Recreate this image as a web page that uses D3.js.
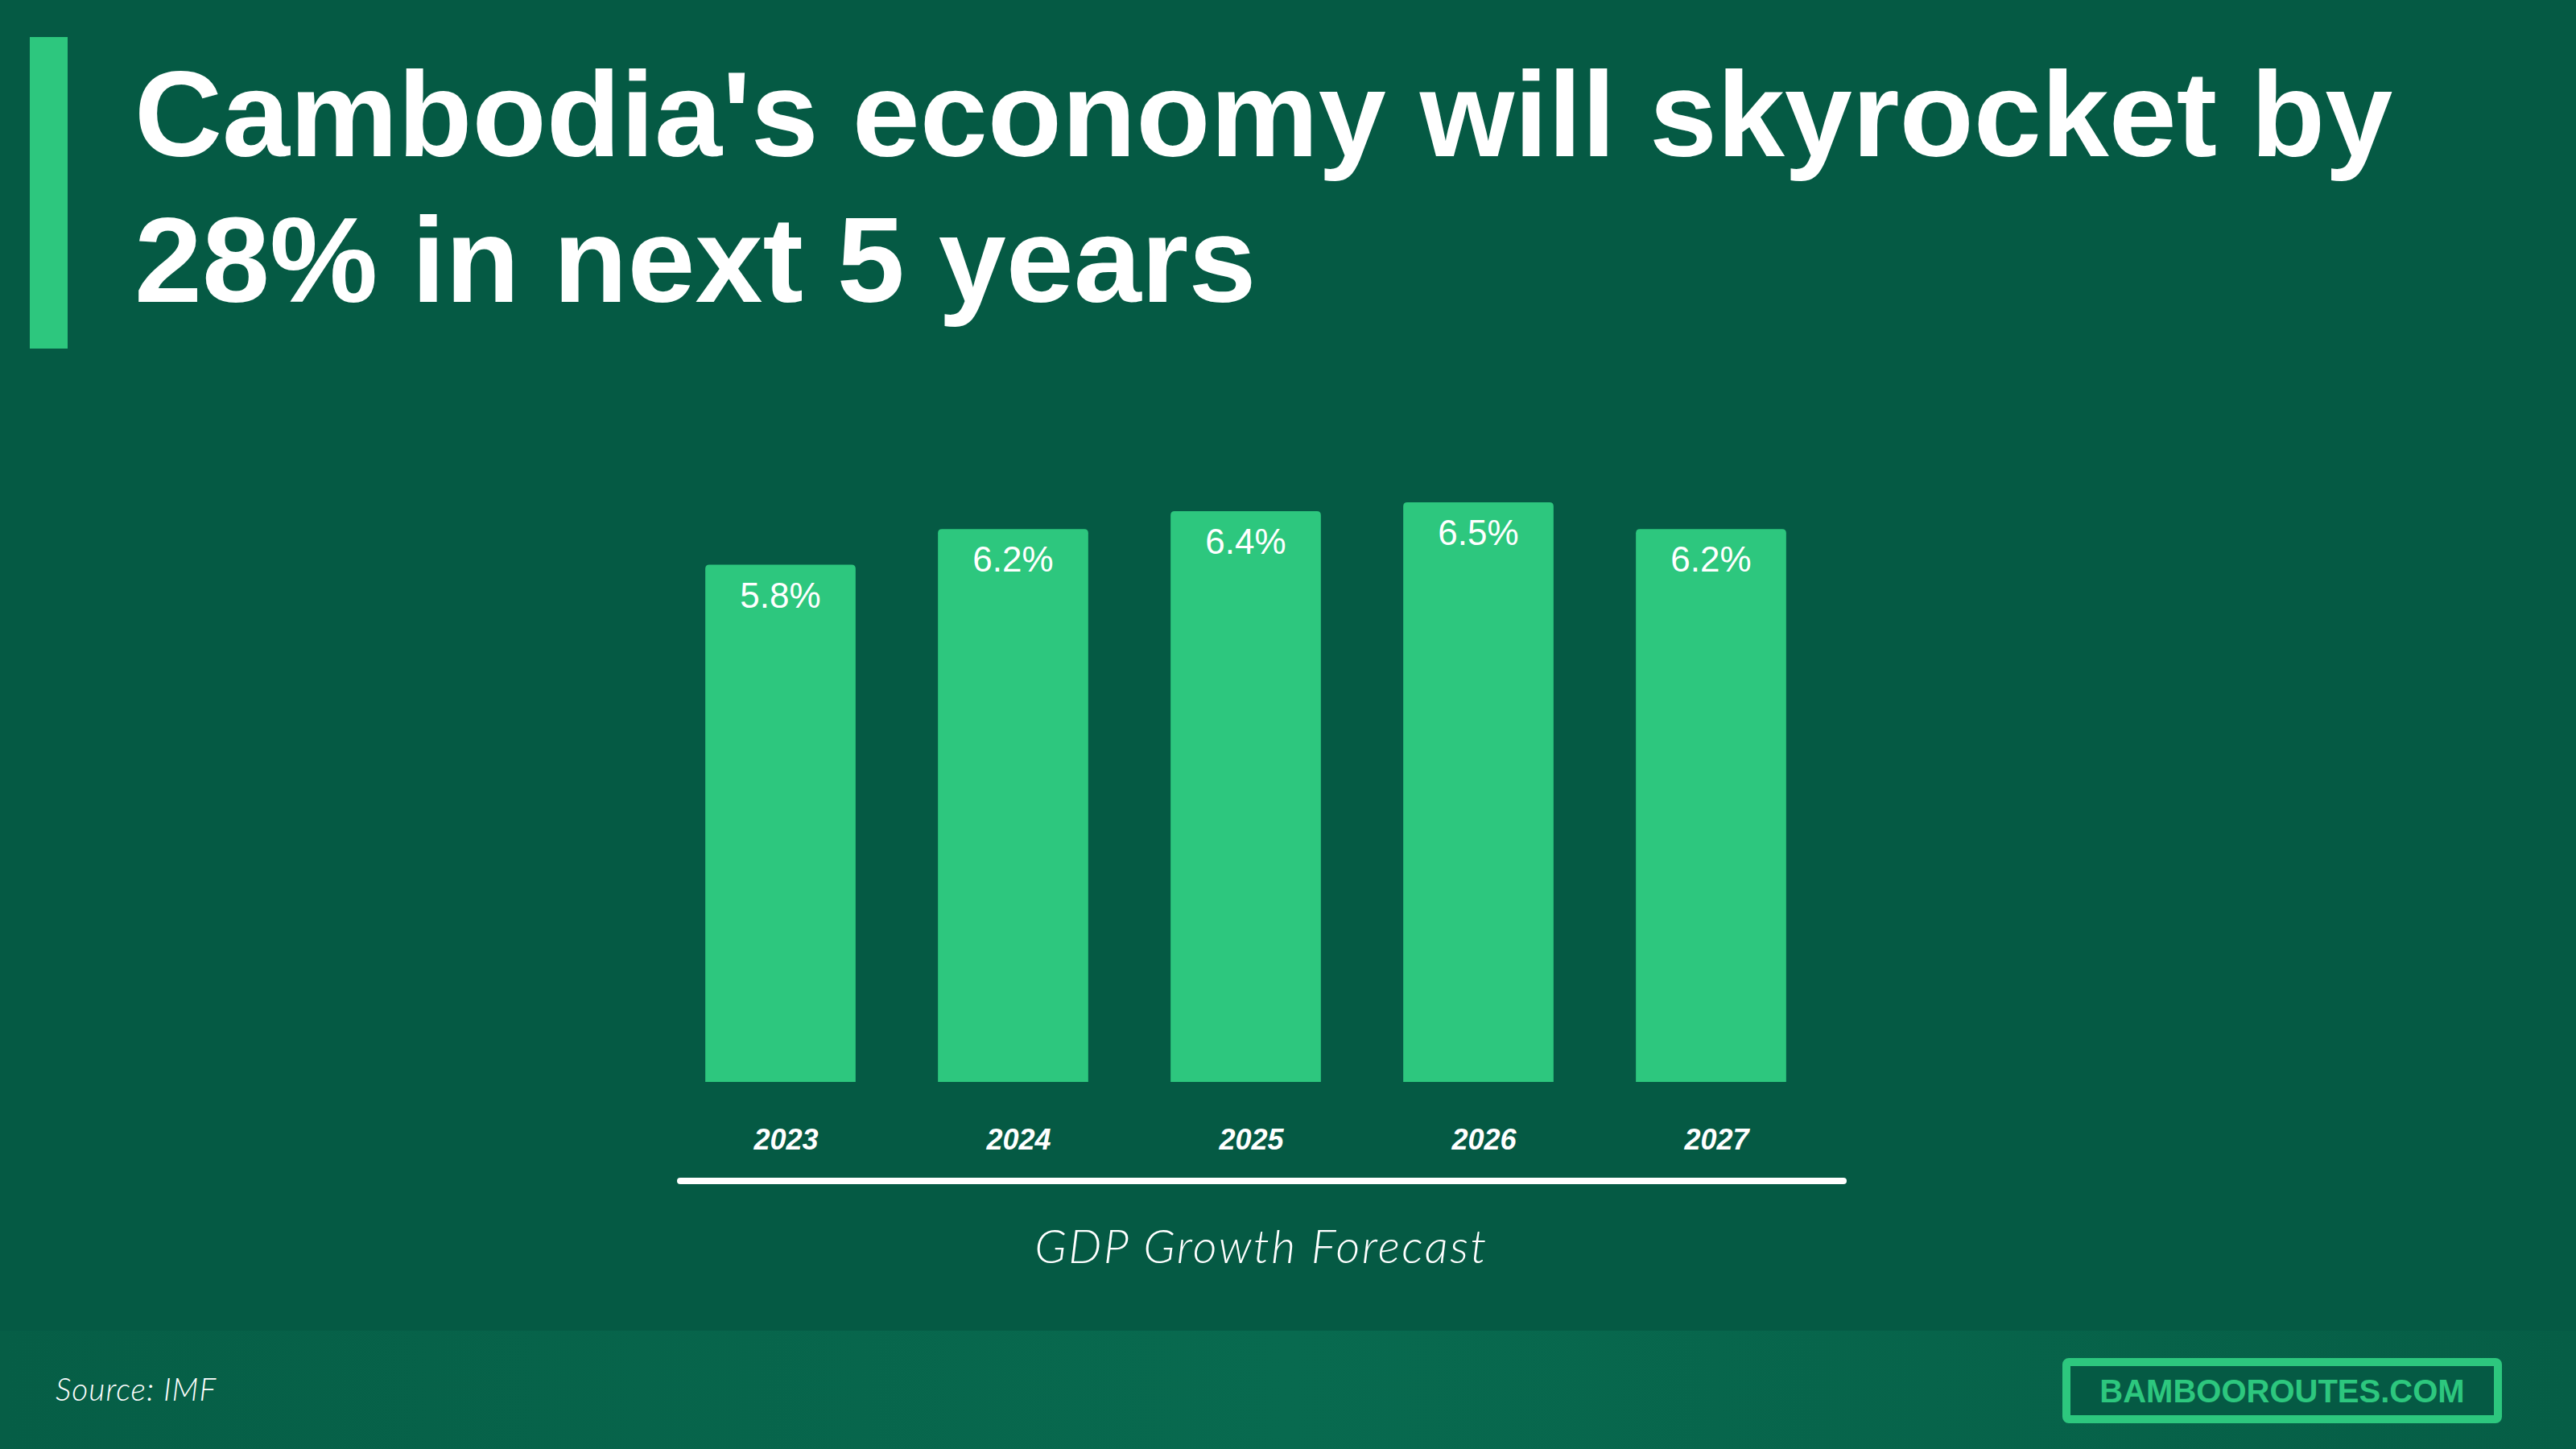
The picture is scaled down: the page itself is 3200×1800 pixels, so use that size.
<!DOCTYPE html>
<html>
<head>
<meta charset="utf-8">
<script src="https://cdn.jsdelivr.net/npm/d3@7"></script>
<style>
html,body{margin:0;padding:0;background:#055A44;}
svg{display:block;}
</style>
</head>
<body>
<script>
const years = ["2023","2024","2025","2026","2027"];
const growth = [5.8, 6.2, 6.4, 6.5, 6.2];
const valueLabels = ["5.8%","6.2%","6.4%","6.5%","6.2%"];
const titleLines = ["Cambodia's economy will skyrocket by","28% in next 5 years"];
const axisTitle = "GDP Growth Forecast";
const sourceText = "Source: IMF";
const brandText = "BAMBOOROUTES.COM";

const W = 3200, H = 1800;
const BG = "#055A44", GREEN = "#2DC77E";

const svg = d3.select("body").append("svg").attr("width", W).attr("height", H);

const defs = svg.append("defs");
const grad = defs.append("linearGradient").attr("id","foot").attr("x1","0").attr("x2","1").attr("y1","0").attr("y2","0");
grad.append("stop").attr("offset","0").attr("stop-color","#065E46");
grad.append("stop").attr("offset","0.5").attr("stop-color","#086A4F");
grad.append("stop").attr("offset","1").attr("stop-color","#065E46");

svg.append("rect").attr("width",W).attr("height",H).attr("fill",BG);
svg.append("rect").attr("x",0).attr("y",1653).attr("width",W).attr("height",H-1653).attr("fill","url(#foot)");

// accent bar
svg.append("rect").attr("x",37).attr("y",46).attr("width",47).attr("height",387).attr("fill",GREEN);

// title
const title = svg.append("text").attr("fill","#fff")
  .attr("font-family","'Liberation Sans', Arial, sans-serif").attr("font-weight","bold").attr("font-size",151);
title.selectAll("tspan").data(titleLines).join("tspan")
  .attr("x",167).attr("y",(d,i)=>194+i*181).text(d=>d);

// scales
const x = d3.scaleBand().domain(years).range([876-51, 2219+51]).paddingInner(0.354).paddingOuter(0.177);
const y = d3.scaleLinear().domain([0, 6.5]).range([1344, 624]);

const r = 5;
function barPath(x0, w, yTop, yBot){
  return `M${x0},${yBot}V${yTop+r}Q${x0},${yTop} ${x0+r},${yTop}H${x0+w-r}Q${x0+w},${yTop} ${x0+w},${yTop+r}V${yBot}Z`;
}

const g = svg.append("g");
g.selectAll("path.bar").data(growth).join("path").attr("class","bar")
  .attr("d",(d,i)=>barPath(x(years[i]), x.bandwidth(), y(d), y(0)))
  .attr("fill",GREEN);

g.selectAll("text.val").data(growth).join("text").attr("class","val")
  .attr("x",(d,i)=>x(years[i])+x.bandwidth()/2)
  .attr("y",d=>y(d)+53)
  .attr("text-anchor","middle").attr("fill","#fff")
  .attr("font-family","'Liberation Sans', Arial, sans-serif").attr("font-size",44)
  .text((d,i)=>valueLabels[i]);

// x axis labels
const xAxis = d3.axisBottom(x).tickSize(0).tickPadding(0);
const ax = svg.append("g").attr("transform",`translate(7,${1428})`).call(xAxis);
ax.select(".domain").remove();
ax.selectAll("text").attr("dy",0).attr("y",0).attr("fill","#fff")
  .attr("font-family","'Liberation Sans', Arial, sans-serif").attr("font-weight","bold").attr("font-style","italic").attr("font-size",36);

// white rule
svg.append("line").attr("x1",845).attr("x2",2290).attr("y1",1467).attr("y2",1467)
  .attr("stroke","#fff").attr("stroke-width",8).attr("stroke-linecap","round");

svg.append("text").attr("x",1567).attr("y",1569).attr("text-anchor","middle").attr("fill","#fff")
  .attr("font-family","Lato, 'Open Sans', sans-serif").attr("font-style","italic").attr("font-weight",300)
  .attr("font-size",58).attr("letter-spacing",2.5).text(axisTitle);

svg.append("text").attr("x",69).attr("y",1740).attr("fill","#fff")
  .attr("font-family","Lato, 'Open Sans', sans-serif").attr("font-style","italic").attr("font-weight",300)
  .attr("font-size",39).attr("letter-spacing",1).text(sourceText);

// brand box
svg.append("rect").attr("x",2567).attr("y",1692).attr("width",536).attr("height",71).attr("rx",3)
  .attr("fill","#055A44").attr("stroke",GREEN).attr("stroke-width",10);
svg.append("text").attr("x",2835).attr("y",1742).attr("text-anchor","middle").attr("fill",GREEN)
  .attr("font-family","'Liberation Sans', Arial, sans-serif").attr("font-weight","bold").attr("font-size",40)
  .text(brandText);
</script>
</body>
</html>
